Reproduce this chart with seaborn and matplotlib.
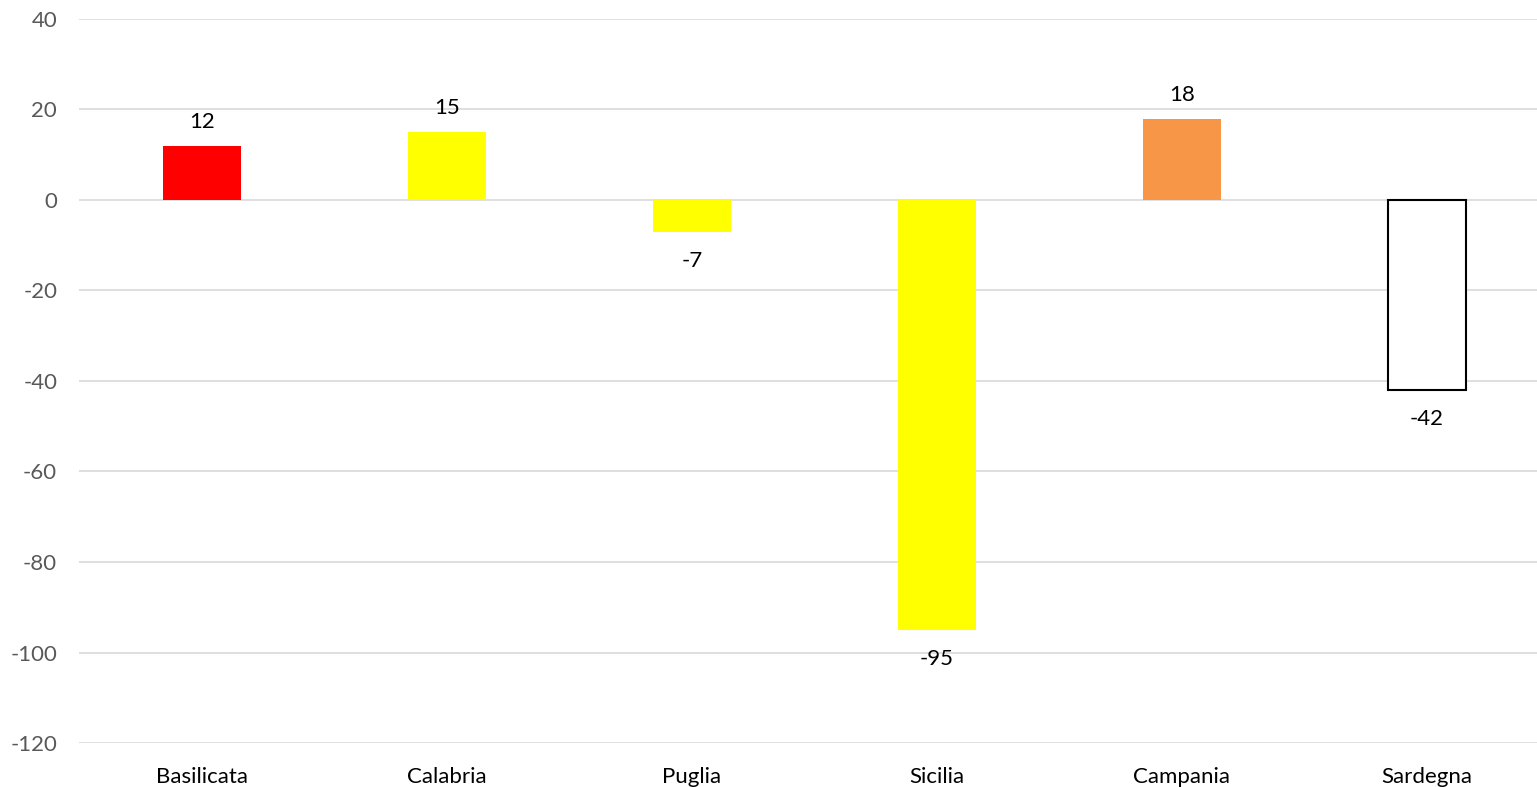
import pandas as pd
import matplotlib.pyplot as plt
import seaborn as sns

regions = ['Basilicata', 'Calabria', 'Puglia', 'Sicilia', 'Campania', 'Sardegna']
values = [12, 15, -7, -95, 18, -42]
colors = ['#FF0000', '#FFFF00', '#FFFF00', '#FFFF00', '#F79646', '#FFFFFF']
yticks = [40, 20, 0, -20, -40, -60, -80, -100, -120]

df = pd.DataFrame({'Regione': regions, 'Valore': values})

sns.set_style('white')
plt.rcParams['font.family'] = ['Lato', 'DejaVu Sans']
plt.rcParams['axes.unicode_minus'] = False

fig = plt.figure(figsize=(15.37, 7.87), dpi=100)
ax = fig.add_axes([0.0517, 0.0559, 0.9564, 0.92])

sns.barplot(data=df, x='Regione', y='Valore', hue='Regione', order=regions,
            palette=dict(zip(regions, colors)), width=0.32, legend=False,
            saturation=1, ax=ax, zorder=3)

for patch, reg in zip(ax.patches, regions):
    if reg == 'Sardegna':
        patch.set_edgecolor('black')
        patch.set_linewidth(1.5)
    else:
        patch.set_linewidth(0)

# etichette dati
for i, v in enumerate(values):
    off = 17 if v >= 0 else -21
    ax.annotate(str(v), (i, v), xytext=(0, off), textcoords='offset points',
                ha='center', va='center', fontsize=16, color='black')

ax.set_ylim(-120, 40)
ax.set_yticks(yticks)
ax.set_xlim(-0.5, 5.5)
ax.yaxis.grid(True, color='#D9D9D9', linewidth=1.2, zorder=0)
ax.set_axisbelow(True)
for s in ax.spines.values():
    s.set_visible(False)
ax.tick_params(axis='y', colors='#595959', labelsize=16, length=0, pad=16)
ax.tick_params(axis='x', colors='black', labelsize=16, length=0, pad=17)
ax.set_xlabel('')
ax.set_ylabel('')

plt.savefig('out.png', dpi=100)
